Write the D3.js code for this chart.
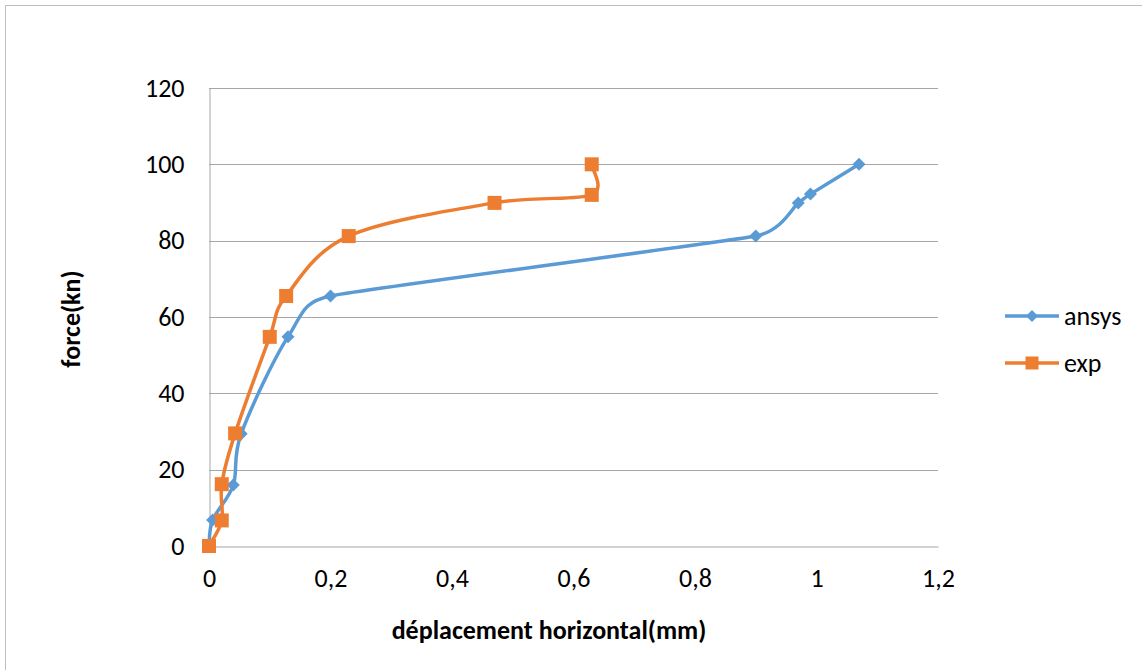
<!DOCTYPE html>
<html><head><meta charset="utf-8">
<script src="https://cdn.jsdelivr.net/npm/d3@7"></script>
<style>body{margin:0;background:#fff}svg{display:block}text{font-family:Calibri,Carlito,"Open Sans","Liberation Sans",sans-serif}</style>
</head><body>
<script>
const ansysX = [0, 0.006, 0.04, 0.053, 0.13, 0.2, 0.9, 0.97, 0.99, 1.07];
const ansysY = [0, 6.8, 16, 29.4, 54.8, 65.5, 81.2, 89.9, 92.2, 100];
const expX = [0, 0.021, 0.021, 0.043, 0.1, 0.127, 0.23, 0.47, 0.63, 0.63];
const expY = [0, 6.7, 16.2, 29.5, 54.8, 65.5, 81.2, 89.9, 92, 100];
const xTicks = [0, 0.2, 0.4, 0.6, 0.8, 1, 1.2];
const yTicks = [0, 20, 40, 60, 80, 100, 120];
const seriesNames = ["ansys", "exp"];
const colors = ["#5B9BD5", "#ED7D31"];

const W = 1142, H = 670, FS = 26;
const svg = d3.select("body").append("svg").attr("width", W).attr("height", H);
svg.append("rect").attr("x", 5.5).attr("y", 5.5).attr("width", 1150).attr("height", 700)
  .attr("fill", "#fff").attr("stroke", "#bfbfbf").attr("stroke-width", 1);

const x = d3.scaleLinear().domain([0, 1.2]).range([209, 938]);
const y = d3.scaleLinear().domain([0, 120]).range([546, 88]);
const fmt = d => String(d).replace(".", ",");

// Excel-like smooth curve: cardinal tangents with arm length limited by neighbouring segment lengths
function excelCurve(context) {
  let pts = [];
  return {
    areaStart() {}, areaEnd() {},
    lineStart() { pts = []; },
    point(px, py) { pts.push([+px, +py]); },
    lineEnd() {
      const n = pts.length;
      if (!n) return;
      context.moveTo(pts[0][0], pts[0][1]);
      const dist = (a, b) => Math.hypot(b[0] - a[0], b[1] - a[1]);
      function arm(i, toward) {
        const p = pts[i], prev = pts[Math.max(0, i - 1)], next = pts[Math.min(n - 1, i + 1)];
        const tx = next[0] - prev[0], ty = next[1] - prev[1];
        const tl = Math.hypot(tx, ty) || 1;
        const dp = i > 0 ? dist(prev, p) : Infinity;
        const dn = i < n - 1 ? dist(p, next) : Infinity;
        let len = Math.min(tl / 6, Math.min(dp, dn) / 2);
        return [tx / tl * len * toward, ty / tl * len * toward];
      }
      for (let i = 0; i < n - 1; i++) {
        const a = arm(i, 1), b = arm(i + 1, -1);
        context.bezierCurveTo(pts[i][0] + a[0], pts[i][1] + a[1],
          pts[i + 1][0] + b[0], pts[i + 1][1] + b[1], pts[i + 1][0], pts[i + 1][1]);
      }
    }
  };
}

// gridlines
svg.append("g").selectAll("line").data(yTicks.filter(d => d > 0)).join("line")
  .attr("x1", x(0)).attr("x2", x(1.2)).attr("y1", d => Math.round(y(d)) + 0.5).attr("y2", d => Math.round(y(d)) + 0.5)
  .attr("stroke", "#a6a6a6").attr("stroke-width", 1);

// axes
const xAxis = svg.append("g").attr("transform", `translate(0,${Math.round(y(0)) + 0.5})`)
  .call(d3.axisBottom(x).tickValues(xTicks).tickFormat(fmt).tickSize(0).tickPadding(22));
xAxis.select(".domain").attr("stroke", "#a6a6a6");
xAxis.selectAll("text").attr("font-size", FS).attr("fill", "#000");

const yAxis = svg.append("g").attr("transform", `translate(${Math.round(x(0)) + 0.5},0)`)
  .call(d3.axisLeft(y).tickValues(yTicks).tickFormat(fmt).tickSize(0).tickPadding(25));
yAxis.select(".domain").attr("stroke", "#a6a6a6");
yAxis.selectAll("text").attr("font-size", FS).attr("fill", "#000");

// titles
svg.append("text").attr("x", 549).attr("y", 639).attr("text-anchor", "middle")
  .attr("font-size", FS).attr("font-weight", "bold").text("déplacement horizontal(mm)");
svg.append("text").attr("transform", "translate(80,319) rotate(-90)").attr("text-anchor", "middle")
  .attr("font-size", FS).attr("font-weight", "bold").text("force(kn)");

const line = d3.line().x(d => x(d[0])).y(d => y(d[1])).curve(excelCurve);
const series = [d3.zip(ansysX, ansysY), d3.zip(expX, expY)];

function marker(g, i, cx, cy, s) {
  if (i === 0) {
    g.append("path").attr("d", `M${cx},${cy - s}L${cx + s},${cy}L${cx},${cy + s}L${cx - s},${cy}Z`).attr("fill", colors[0]);
  } else {
    const h = s;
    g.append("rect").attr("x", cx - h).attr("y", cy - h).attr("width", 2 * h).attr("height", 2 * h).attr("fill", colors[1]);
  }
}

series.forEach((data, i) => {
  svg.append("path").datum(data).attr("d", line).attr("fill", "none")
    .attr("stroke", colors[i]).attr("stroke-width", 3.5).attr("stroke-linejoin", "round").attr("stroke-linecap", "round");
});
series.forEach((data, i) => {
  const g = svg.append("g");
  data.forEach(d => marker(g, i, x(d[0]), y(d[1]), i === 0 ? 6.5 : 7));
});

// legend
seriesNames.forEach((n, i) => {
  const ly = 316 + i * 47;
  svg.append("line").attr("x1", 1005).attr("x2", 1059).attr("y1", ly).attr("y2", ly)
    .attr("stroke", colors[i]).attr("stroke-width", 3.5);
  marker(svg, i, 1032, ly, i === 0 ? 6 : 6.5);
  svg.append("text").attr("x", 1064).attr("y", ly + 9).attr("font-size", FS).text(n);
});
</script>
</body></html>
